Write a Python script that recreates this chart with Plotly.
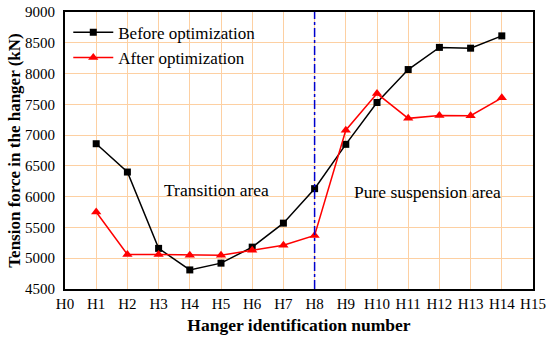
import plotly.graph_objects as go

categories = [f"H{i}" for i in range(16)]
hangers = [f"H{i}" for i in range(1, 15)]
before = [6860, 6400, 5160, 4810, 4920, 5180, 5570, 6130, 6850, 7530, 8065, 8425, 8412, 8612]
after = [5750, 5060, 5060, 5050, 5050, 5130, 5210, 5370, 7080, 7675, 7272, 7320, 7315, 7605]
y_ticks = [4500, 5000, 5500, 6000, 6500, 7000, 7500, 8000, 8500, 9000]

FONT = "Liberation Serif"
xpos = {c: i for i, c in enumerate(categories)}

fig = go.Figure()
fig.add_trace(go.Scatter(
    x=[xpos[h] for h in hangers], y=before, mode="lines+markers", name="Before optimization",
    line=dict(color="black", width=1.5),
    marker=dict(symbol="square", size=7, color="black"),
))
fig.add_trace(go.Scatter(
    x=[xpos[h] for h in hangers], y=after, mode="lines+markers", name="After optimization",
    line=dict(color="#FF0000", width=1.5),
    marker=dict(symbol="triangle-up", size=9, color="#FF0000"),
))

fig.add_shape(type="line", x0=xpos["H8"], x1=xpos["H8"], y0=0, y1=1, yref="paper",
              line=dict(color="#0000CC", width=1.5, dash="dashdot"))

fig.add_annotation(x=4.86, y=6110, text="Transition area", showarrow=False,
                   font=dict(family=FONT, size=17.5, color="black"))
fig.add_annotation(x=11.62, y=6080, text="Pure suspension area", showarrow=False,
                   font=dict(family=FONT, size=17.5, color="black"))

fig.update_layout(
    width=550, height=339,
    margin=dict(l=65, r=17, t=12, b=50, autoexpand=False),
    paper_bgcolor="white", plot_bgcolor="white",
    font=dict(family=FONT, size=15, color="black"),
    showlegend=True,
    legend=dict(x=0.007, y=0.99, xanchor="left", yanchor="top", bgcolor="rgba(0,0,0,0)",
                font=dict(family=FONT, size=17), itemwidth=40, tracegroupgap=0),
    xaxis=dict(
        range=[0, 15], tickvals=list(range(16)), ticktext=categories,
        showgrid=True, gridcolor="#FDD0A2", gridwidth=1,
        showline=True, linecolor="black", linewidth=2, mirror=True,
        ticks="", zeroline=False, ticklabelstandoff=0, automargin=False,
        title=dict(text="<b>Hanger identification number</b>", font=dict(family=FONT, size=17.5), standoff=8),
    ),
    yaxis=dict(
        range=[4500, 9000], tickvals=y_ticks,
        showgrid=True, gridcolor="#FDD0A2", gridwidth=1,
        showline=True, linecolor="black", linewidth=2, mirror=True,
        ticks="", zeroline=False, ticklabelstandoff=5, automargin=False,
        title=dict(text="<b>Tension force in the hanger (kN)</b>", font=dict(family=FONT, size=17), standoff=0),
    ),
)

fig.write_html("out.html", config={"displayModeBar": False},
               post_script="document.body.style.margin='0';")
